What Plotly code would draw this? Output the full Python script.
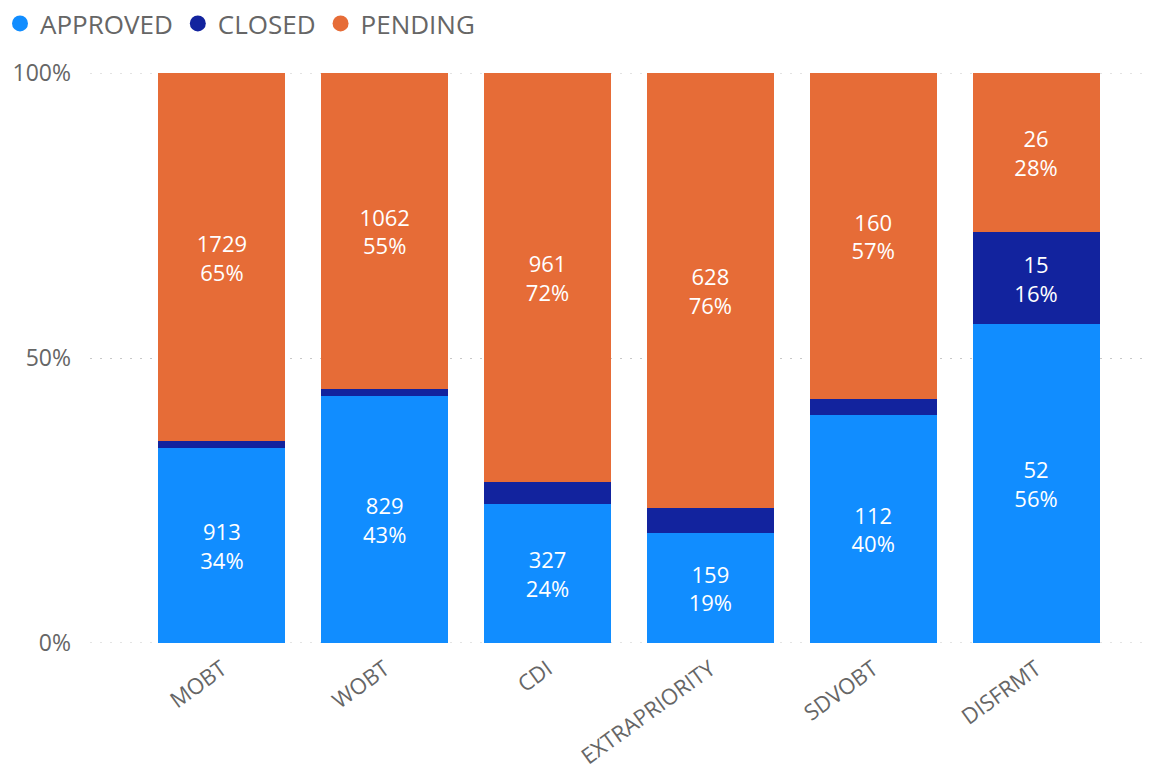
import plotly.graph_objects as go

categories = ["MOBT", "WOBT", "CDI", "EXTRAPRIORITY", "SDVOBT", "DISFRMT"]
approved = [913, 829, 327, 159, 112, 52]
closed = [33, 25, 50, 35, 8, 15]
pending = [1729, 1062, 961, 628, 160, 26]
y_ticks = [0, 50, 100]
y_tick_labels = ["0%", "50%", "100%"]

series = [
    ("APPROVED", approved, "#118DFF"),
    ("CLOSED", closed, "#12239E"),
    ("PENDING", pending, "#E66C37"),
]

totals = [a + c + p for a, c, p in zip(approved, closed, pending)]

FONT = "Open Sans, Noto Sans, sans-serif"
GRID = "#C8C8C8"
DASH = "2px,8px"
fig = go.Figure()
for name, vals, color in series:
    texts = []
    for v, t in zip(vals, totals):
        pct = 100 * v / t
        texts.append(f"{v}<br>{pct:.0f}%" if pct >= 8 else "")
    fig.add_trace(go.Bar(
        x=categories, y=vals, name=name, marker=dict(color=color, line=dict(width=0)),
        text=texts, texttemplate="%{text}", textposition="inside", insidetextanchor="middle",
        textfont=dict(color="white", size=22, family=FONT), showlegend=False,
        textangle=0,
    ))
    fig.add_trace(go.Scatter(
        x=[None], y=[None], mode="markers", name=name,
        marker=dict(symbol="circle", size=22, color=color), showlegend=True,
    ))

for yv in (0, 100):
    fig.add_shape(type="line", xref="paper", yref="y", x0=0, x1=1, y0=yv, y1=yv,
                  line=dict(color=GRID, width=1, dash=DASH), layer="below")

fig.update_layout(
    barmode="stack", barnorm="percent", bargap=0.22,
    width=1156, height=773,
    margin=dict(l=90, r=6, t=73, b=130, autoexpand=False),
    plot_bgcolor="white", paper_bgcolor="white",
    font=dict(family=FONT, color="#666666"),
    uniformtext=dict(minsize=10, mode="show"),
    legend=dict(orientation="h", xref="container", yref="container", x=0.0, y=1.0,
                xanchor="left", yanchor="top", font=dict(size=26, color="#666666"),
                tracegroupgap=0, traceorder="normal", itemwidth=30),
    xaxis=dict(range=[-0.81, 5.7], tickangle=-36, tickfont=dict(size=22, color="#666666"),
               showgrid=False, zeroline=False, showline=False, ticks="",
               ticklabelstandoff=8, automargin=False),
    yaxis=dict(range=[0, 100], tickvals=y_ticks, ticktext=y_tick_labels,
               tickfont=dict(size=23, color="#666666"), showgrid=True, gridcolor=GRID,
               griddash=DASH, gridwidth=1, zeroline=False, showline=False, ticks="",
               ticklabelstandoff=18, automargin=False),
)
fig.write_html("out.html")
